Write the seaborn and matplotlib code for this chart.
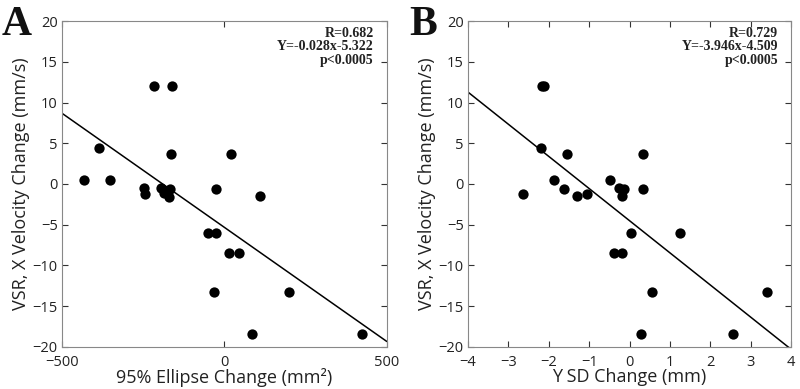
import numpy as np
import pandas as pd
import matplotlib
matplotlib.use("Agg")
import matplotlib.pyplot as plt
import seaborn as sns

# Panel A data
ellipse_change = [-433, -385, -353, -246, -243, -218, -161, -164, -195, -187, -171, -166,
                  -25, 21, 109, -52, -25, 15, 46, -33, 198, 85, 424]
vel_a = [0.45, 4.4, 0.45, -0.45, -1.2, 12.0, 12.0, 3.7, -0.45, -1.15, -1.6, -0.57,
         -0.57, 3.7, -1.5, -6.05, -6.05, -8.47, -8.47, -13.3, -13.3, -18.4, -18.4]
# Panel B data
ysd_change = [-2.65, -2.19, -2.16, -2.13, -1.88, -1.63, -1.54, -1.29, -1.05, -0.49, -0.26,
              -0.13, -0.19, -0.38, -0.19, 0.04, 0.33, 0.33, 1.25, 0.56, 0.27, 2.56, 3.41]
vel_b = [-1.2, 4.4, 12.0, 12.0, 0.45, -0.57, 3.7, -1.5, -1.2, 0.45, -0.45,
         -0.57, -1.5, -8.47, -8.47, -6.05, 3.7, -0.57, -6.05, -13.3, -18.4, -18.4, -13.3]

fit_slope = [-0.028, -3.946]
fit_intercept = [-5.322, -4.509]
stats_text = ["R=0.682\nY=-0.028x-5.322\np<0.0005", "R=0.729\nY=-3.946x-4.509\np<0.0005"]
panel_letters = ["A", "B"]
xlabels = ["95% Ellipse Change (mm²)", "Y SD Change (mm)"]
ylabel = "VSR, X Velocity Change (mm/s)"
xlims = [(-500, 500), (-4, 4)]
xticks = [[-500, 0, 500], [-4, -3, -2, -1, 0, 1, 2, 3, 4]]
yticks = [-20, -15, -10, -5, 0, 5, 10, 15, 20]

sns.set_style("white")
plt.rcParams['font.family'] = ['Open Sans', 'DejaVu Sans']

fig = plt.figure(figsize=(8, 3.89), dpi=100)
axA = fig.add_axes([0.0775, 0.108, 0.406, 0.838])
axB = fig.add_axes([0.585, 0.108, 0.404, 0.838])

datasets = [(ellipse_change, vel_a), (ysd_change, vel_b)]
for i, ax in enumerate([axA, axB]):
    x, y = datasets[i]
    df = pd.DataFrame({"x": x, "y": y})
    sns.scatterplot(data=df, x="x", y="y", ax=ax, color="black", s=55,
                    edgecolor="black", linewidth=0, zorder=3)
    xl = np.array(xlims[i], dtype=float)
    line = pd.DataFrame({"x": xl, "y": fit_slope[i] * xl + fit_intercept[i]})
    sns.lineplot(data=line, x="x", y="y", ax=ax, color="black", linewidth=1.1, zorder=2)
    ax.set_xlim(*xlims[i])
    ax.set_ylim(-20, 20)
    ax.set_xticks(xticks[i])
    ax.set_yticks(yticks)
    ax.tick_params(direction="in", length=4, width=0.8, labelsize=10.5, colors="#333333",
                   top=True, right=True, bottom=True, left=True, pad=3)
    ax.tick_params(axis='x', pad=5.5)
    ax.tick_params(axis='both', labelcolor="#222222")
    for sp in ax.spines.values():
        sp.set_color("#888888")
        sp.set_linewidth(0.8)
    ax.set_xlabel(xlabels[i], fontsize=13, color="#222222", labelpad=-1)
    ax.set_ylabel(ylabel, fontsize=13, color="#222222", labelpad=2)
    ax.text(0.96, 0.982, stats_text[i], transform=ax.transAxes, ha="right", va="top",
            fontsize=10, fontweight="bold", family=["Liberation Serif", "DejaVu Serif"],
            linespacing=1.05, color="#222222")

fig.text(0.002, 0.985, panel_letters[0], ha="left", va="top", fontsize=30, fontweight="bold",
         family=["Liberation Serif", "DejaVu Serif"], color="#111111")
fig.text(0.512, 0.985, panel_letters[1], ha="left", va="top", fontsize=30, fontweight="bold",
         family=["Liberation Serif", "DejaVu Serif"], color="#111111")

fig.savefig("out.png", dpi=100)
